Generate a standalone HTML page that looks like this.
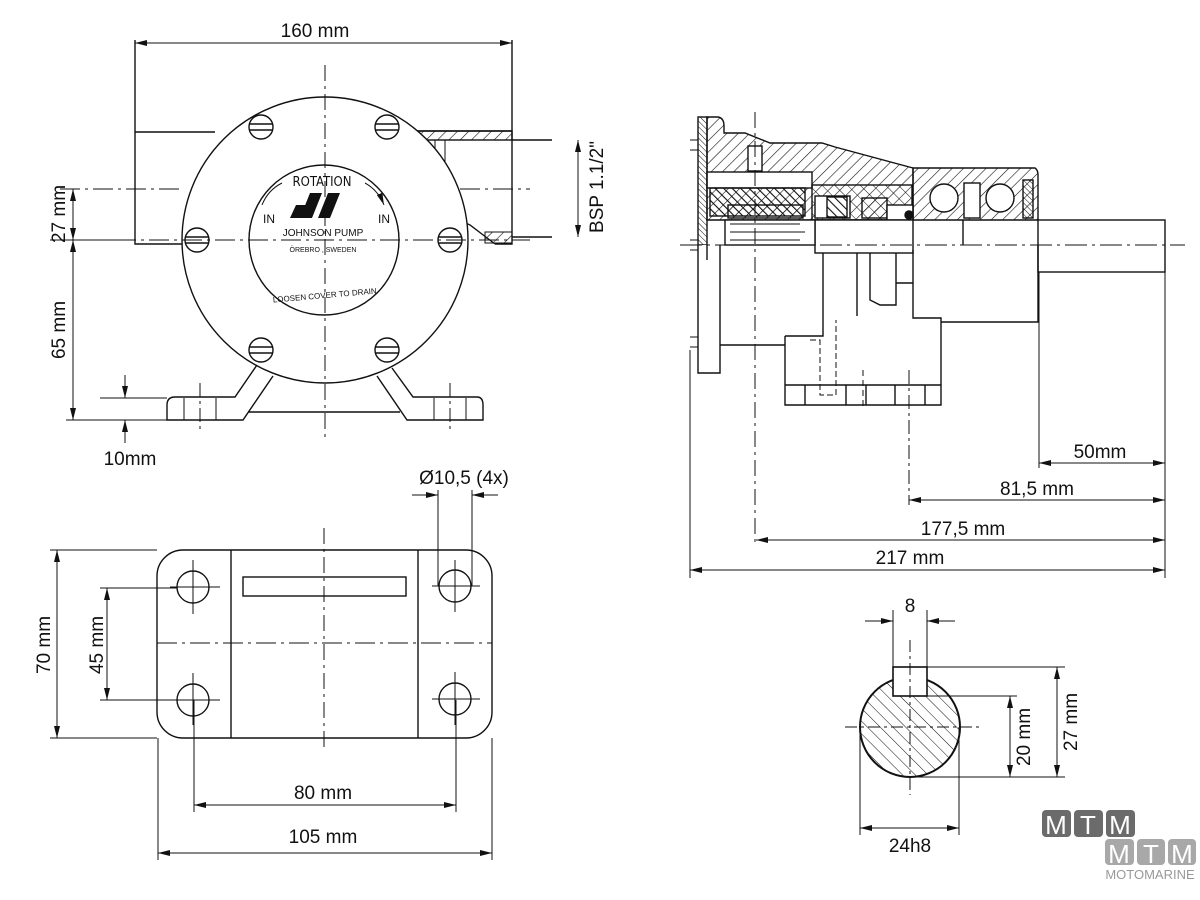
<!DOCTYPE html>
<html><head><meta charset="utf-8"><style>
html,body{margin:0;padding:0;background:#fff}
svg{display:block}
text{font-family:"Liberation Sans",sans-serif;fill:#111}
</style></head><body>
<svg width="1200" height="900" viewBox="0 0 1200 900" xmlns="http://www.w3.org/2000/svg">
<defs>
<pattern id="h" width="8" height="8" patternUnits="userSpaceOnUse" patternTransform="rotate(45)"><line x1="0" y1="0" x2="0" y2="8" stroke="#111" stroke-width="1.2"/></pattern>
<pattern id="h2" width="6" height="6" patternUnits="userSpaceOnUse" patternTransform="rotate(-45)"><line x1="0" y1="0" x2="0" y2="6" stroke="#111" stroke-width="2.2"/></pattern>
<pattern id="h3" width="4" height="4" patternUnits="userSpaceOnUse" patternTransform="rotate(-45)"><line x1="0" y1="0" x2="0" y2="4" stroke="#111" stroke-width="1"/></pattern>
<pattern id="h4" width="9" height="9" patternUnits="userSpaceOnUse" patternTransform="rotate(-45)"><line x1="0" y1="0" x2="0" y2="9" stroke="#111" stroke-width="1"/></pattern>
<marker id="a" viewBox="0 0 12 6" refX="12" refY="3" markerWidth="12" markerHeight="6" orient="auto-start-reverse" markerUnits="userSpaceOnUse"><path d="M0,0L12,3L0,6z" fill="#111"/></marker>
</defs>
<g stroke="#111" stroke-width="1.4" fill="none">
<!-- ===== FRONT VIEW ===== -->
<!-- left port -->
<path d="M135,40V244H186 M135,132H215"/>
<!-- right port -->
<path d="M412,131H512V244H495 M512,40V244 M512,140H552 M512,237H552"/>
<path d="M418,131 L430,150 L430,182 Q445,215 470,225 L495,244" />
<rect x="418" y="131" width="94" height="9" fill="url(#h)"/>
<path d="M435,140V220 M445,140V228" stroke-width="1"/>
<rect x="485" y="232" width="27" height="11" fill="url(#h)" stroke-width="1"/>
<!-- circles -->
<circle cx="325" cy="240" r="143" fill="#fff"/>
<circle cx="324" cy="240" r="75"/>
<!-- screws -->
<g>
<circle cx="261" cy="127" r="12" fill="#fff"/><path d="M249,124H273M249,130H273"/>
<circle cx="387" cy="127" r="12" fill="#fff"/><path d="M375,124H399M375,130H399"/>
<circle cx="197" cy="240" r="12" fill="#fff"/><path d="M185,237H209M185,243H209"/>
<circle cx="450" cy="240" r="12" fill="#fff"/><path d="M438,237H462M438,243H462"/>
<circle cx="261" cy="350" r="12" fill="#fff"/><path d="M249,347H273M249,353H273"/>
<circle cx="387" cy="350" r="12" fill="#fff"/><path d="M375,347H399M375,353H399"/>
</g>
<!-- feet -->
<path d="M257,365 L235,397 H175 Q167,397 167,405 V420 H243 L273,376"/>
<path d="M392,368 L413,397 H477 Q483,397 483,405 V420 H407 L377,376"/>
<path d="M248,412 H400"/>
<path d="M184,398V420 M216,398V420 M434,398V420 M466,398V420" stroke-width="1"/>
<path d="M200,383V432 M450,383V432" stroke-dasharray="14,4,3,4" stroke-width="1"/>
<!-- centerlines -->
<path d="M325,65V440" stroke-dasharray="16,5,3,5" stroke-width="1"/>
<path d="M50,240H530" stroke-dasharray="20,5,3,5" stroke-width="1"/>
<path d="M60,189H180 M460,189H530" stroke-dasharray="20,5,3,5" stroke-width="1"/>
<!-- dims front -->
<path d="M135,43H512" marker-start="url(#a)" marker-end="url(#a)" stroke-width="1"/>
<path d="M73,189V240" marker-start="url(#a)" marker-end="url(#a)" stroke-width="1"/>
<path d="M73,240V420" marker-start="url(#a)" marker-end="url(#a)" stroke-width="1"/>
<path d="M66,420H170 M66,240H135 M100,398H167" stroke-width="1"/>
<path d="M125,375V398" marker-end="url(#a)" stroke-width="1"/>
<path d="M125,443V420" marker-end="url(#a)" stroke-width="1"/>
<path d="M578,140V237" marker-start="url(#a)" marker-end="url(#a)" stroke-width="1"/>
</g>
<!-- front view texts -->
<text x="315" y="37" font-size="19" text-anchor="middle">160 mm</text>
<text transform="translate(65,214) rotate(-90)" font-size="19" text-anchor="middle">27 mm</text>
<text transform="translate(65,330) rotate(-90)" font-size="19" text-anchor="middle">65 mm</text>
<text x="130" y="465" font-size="19" text-anchor="middle">10mm</text>
<text transform="translate(603,187) rotate(-90)" font-size="19" text-anchor="middle">BSP  1.1/2"</text>
<g font-family="DejaVu Sans Condensed,sans-serif">
<text x="322" y="186" font-size="13" text-anchor="middle" style="font-family:'DejaVu Sans Condensed',sans-serif">ROTATION</text>
<text x="263" y="223" font-size="12">IN</text>
<text x="378" y="223" font-size="12">IN</text>
<text x="323" y="236" font-size="10" text-anchor="middle">JOHNSON PUMP</text>
<text x="323" y="252" font-size="7" text-anchor="middle">ÖREBRO , SWEDEN</text>
<text x="325" y="298" font-size="8" text-anchor="middle" transform="rotate(-5 325 298)">LOOSEN COVER TO DRAIN</text>
</g>
<path d="M300,218 L310,193 H322 L312,218z M318,218 L328,193 H340 L330,218z M290,218 L296,205 H306 L300,218z" fill="#111"/>
<path d="M282,183 Q268,190 262,205 M365,183 Q378,190 384,205" stroke="#111" fill="none" marker-end="url(#a)"/>

<!-- ===== BASE PLATE ===== -->
<g stroke="#111" stroke-width="1.4" fill="none">
<rect x="157" y="550" width="335" height="188" rx="26"/>
<path d="M231,550V738 M418,550V738"/>
<rect x="243" y="577" width="163" height="19"/>
<circle cx="193" cy="587" r="16"/><circle cx="455" cy="586" r="16"/>
<circle cx="193" cy="700" r="16"/><circle cx="455" cy="699" r="16"/>
<g stroke-width="1">
<path d="M193,560V614 M170,587H220 M432,586H480 M455,560V612"/>
<path d="M193,673V725 M170,700H220 M432,699H480 M455,672V725"/>
<path d="M157,643H492" stroke-dasharray="20,5,3,5"/>
<path d="M324,528V750" stroke-dasharray="16,5,3,5"/>
<path d="M50,550H157 M50,738H157 M100,588H177 M100,700H177"/>
<path d="M57,550V738" marker-start="url(#a)" marker-end="url(#a)"/>
<path d="M107,588V700" marker-start="url(#a)" marker-end="url(#a)"/>
<path d="M194,700V812 M456,700V812 M158,738V860 M492,738V860"/>
<path d="M194,805H456" marker-start="url(#a)" marker-end="url(#a)"/>
<path d="M158,853H492" marker-start="url(#a)" marker-end="url(#a)"/>
<path d="M438,490V586 M472,490V586"/>
<path d="M412,495H438" marker-end="url(#a)"/><path d="M498,495H472" marker-end="url(#a)"/>
</g>
</g>
<text transform="translate(50,645) rotate(-90)" font-size="19" text-anchor="middle">70 mm</text>
<text transform="translate(103,645) rotate(-90)" font-size="19" text-anchor="middle">45 mm</text>
<text x="323" y="799" font-size="19" text-anchor="middle">80 mm</text>
<text x="323" y="843" font-size="19" text-anchor="middle">105 mm</text>
<text x="464" y="484" font-size="19" text-anchor="middle">Ø10,5 (4x)</text>

<!-- ===== SIDE VIEW ===== -->
<g stroke="#111" stroke-width="1.4">
<!-- upper hatched body -->
<path d="M707,117 H718 Q724,118 724,126 V133 H745 L770,143 H822 L835,147 L913,168 V220 H707z" fill="url(#h)"/>
<rect x="707" y="172" width="105" height="16" fill="#fff"/>
<rect x="710" y="188" width="95" height="28" fill="url(#h2)"/>
<rect x="728" y="205" width="75" height="13" fill="url(#h)"/>
<rect x="812" y="185" width="100" height="35" fill="url(#h4)"/>
<rect x="815" y="196" width="35" height="22" fill="#fff"/>
<rect x="827" y="197" width="20" height="20" fill="url(#h2)"/>
<rect x="862" y="198" width="25" height="20" fill="url(#h)"/>
<rect x="887" y="205" width="26" height="15" fill="#fff"/>
<circle cx="909" cy="215" r="4" fill="#111"/>
<rect x="748" y="146" width="14" height="25" fill="#fff"/>
<!-- front plate -->
<rect x="698" y="117" width="9" height="128" fill="url(#h3)"/>
<path d="M698,245V373H720V245" fill="#fff"/>
<!-- bearing housing -->
<path d="M913,168 H1035 Q1038,170 1038,175 V220 H913z" fill="url(#h)"/>
<circle cx="944" cy="198" r="14" fill="#fff"/><circle cx="1000" cy="198" r="14" fill="#fff"/>
<rect x="964" y="183" width="16" height="35" fill="#fff"/>
<rect x="1023" y="180" width="10" height="38" fill="url(#h3)"/>
<!-- shaft inner -->
<rect x="815" y="220" width="98" height="33" fill="#fff"/>
<rect x="1038" y="220" width="127" height="52" fill="#fff"/>
<rect x="725" y="220" width="90" height="25" fill="#fff"/>
<path d="M730,224H800 M730,232H805 M730,240H800" stroke-width="1" fill="none"/>
<path d="M963,220V245" fill="none"/>
</g>
<g stroke="#111" stroke-width="1.4" fill="none">
<path d="M707,245 V260 M720,345 H785"/>
<path d="M823,253V316 M857,253V316 M870,253V300 L880,305 H896 V253 M896,283 H913"/>
<path d="M785,336 V405 H941 V318 H913 V250 M785,336 H823 V316"/>
<path d="M941,322 H1038 V245"/>
<path d="M785,385 H941 M805,385V405 M846,385V405 M866,385V405 M895,385V405 M925,385V405"/>
<path d="M810,340 H820 V395 H836 V320" stroke-dasharray="6,3" stroke-width="1"/>
<!-- screws -->
<path d="M690,140H698 M690,150H698 M690,240H698 M690,250H698 M690,337H698 M690,347H698" stroke-width="1"/>
<!-- centerline -->
<path d="M680,245H1185" stroke-dasharray="22,5,3,5" stroke-width="1"/>
<path d="M755,112V545" stroke-dasharray="16,5,3,5" stroke-width="1"/>
<path d="M863,370V410" stroke-dasharray="6,4" stroke-width="1"/>
<path d="M909,370V505" stroke-dasharray="14,4,3,4" stroke-width="1"/>
<!-- extension lines -->
<path d="M690,350V578 M1039,272V468 M1165,272V578" stroke-width="1"/>
<path d="M1039,463H1165" marker-start="url(#a)" marker-end="url(#a)" stroke-width="1"/>
<path d="M909,500H1165" marker-start="url(#a)" marker-end="url(#a)" stroke-width="1"/>
<path d="M756,540H1165" marker-start="url(#a)" marker-end="url(#a)" stroke-width="1"/>
<path d="M690,570H1165" marker-start="url(#a)" marker-end="url(#a)" stroke-width="1"/>
</g>
<text x="1100" y="458" font-size="19" text-anchor="middle">50mm</text>
<text x="1037" y="495" font-size="19" text-anchor="middle">81,5 mm</text>
<text x="963" y="535" font-size="19" text-anchor="middle">177,5 mm</text>
<text x="910" y="564" font-size="19" text-anchor="middle">217 mm</text>

<!-- ===== SHAFT SECTION ===== -->
<g stroke="#111" fill="none">
<circle cx="910" cy="727" r="50" fill="url(#h4)" stroke-width="2"/>
<rect x="893" y="667" width="34" height="29" fill="#fff" stroke-width="1.6"/>
<g stroke-width="1">
<path d="M845,727H980 M910,640V795" stroke-dasharray="12,4,3,4"/>
<path d="M893,610V667 M927,610V667"/>
<path d="M865,621H893" marker-end="url(#a)"/><path d="M955,621H927" marker-end="url(#a)"/>
<path d="M927,667H1065 M927,696H1017 M910,777H1065"/>
<path d="M1010,696V777" marker-start="url(#a)" marker-end="url(#a)"/>
<path d="M1057,667V777" marker-start="url(#a)" marker-end="url(#a)"/>
<path d="M860,727V835 M959,727V835"/>
<path d="M860,828H959" marker-start="url(#a)" marker-end="url(#a)"/>
</g>
</g>
<text x="910" y="612" font-size="19" text-anchor="middle">8</text>
<text transform="translate(1030,737) rotate(-90)" font-size="19" text-anchor="middle">20 mm</text>
<text transform="translate(1077,722) rotate(-90)" font-size="19" text-anchor="middle">27 mm</text>
<text x="910" y="852" font-size="19" text-anchor="middle">24h8</text>

<!-- ===== LOGO ===== -->
<g>
<rect x="1042" y="810" width="29" height="27" rx="4" fill="#6b6b6b"/>
<rect x="1074" y="810" width="29" height="27" rx="4" fill="#6b6b6b"/>
<rect x="1106" y="810" width="29" height="27" rx="4" fill="#6b6b6b"/>
<rect x="1105" y="839" width="29" height="26" rx="4" fill="#a8a8a8"/>
<rect x="1137" y="839" width="28" height="26" rx="4" fill="#a8a8a8"/>
<rect x="1168" y="839" width="28" height="26" rx="4" fill="#a8a8a8"/>
<g font-size="26" text-anchor="middle" style="fill:#fff">
<text x="1056" y="834" style="fill:#fff">M</text><text x="1088" y="834" style="fill:#fff">T</text><text x="1120" y="834" style="fill:#fff">M</text>
<text x="1119" y="863" style="fill:#fff">M</text><text x="1151" y="863" style="fill:#fff">T</text><text x="1182" y="863" style="fill:#fff">M</text>
</g>
<text x="1150" y="879" font-size="13" text-anchor="middle" style="fill:#999">MOTOMARINE</text>
</g>
</svg>
</body></html>
